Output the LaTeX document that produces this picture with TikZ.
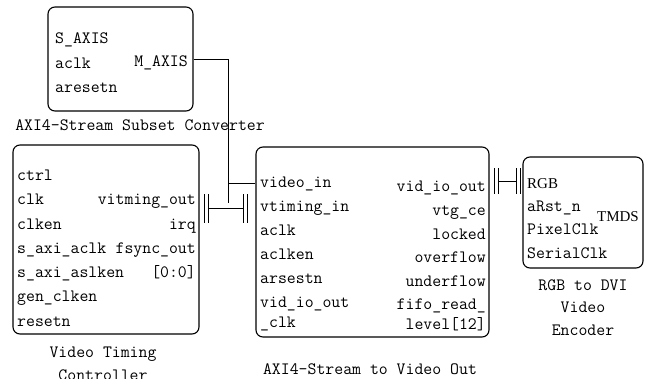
\documentclass[tikz,border=0pt]{standalone}
\usepackage{fontspec}
\newfontfamily\timesfont{Liberation Serif}
\usetikzlibrary{calc}
\tikzset{
 block/.style={draw,rounded corners=7pt,line width=1.1pt,inner sep=0},
 port/.style={font=\ttfamily\fontsize{17.3}{22}\selectfont,inner sep=0,text height=11pt,text depth=3pt},
 inport/.style={port,anchor=west},
 outport/.style={port,anchor=east},
 sigport/.style={font=\timesfont\fontsize{15}{18}\selectfont,inner sep=0,text height=10pt,text depth=0pt},
 caption/.style={font=\ttfamily\fontsize{17.3}{22.5}\selectfont,align=center,inner sep=0},
 wire/.style={line width=1pt}
}
\begin{document}
\begin{tikzpicture}[x=1pt,y=-1pt]
\path[use as bounding box] (0,0) rectangle (648,378);
% AXI4-Stream Subset Converter
\node[block,minimum width=145,minimum height=104] (conv) at (120.5,59) {};
\node[inport] (convsaxis) at (55,39) {S\_AXIS};
\node[inport] (convaclk) at (55,64) {aclk};
\node[inport] (convaresetn) at (55,88) {aresetn};
\node[outport] (convmaxis) at (188,62) {M\_AXIS};
\node[caption] (convname) at (140,125) {AXI4-Stream Subset Converter};
% Video Timing Controller
\node[block,minimum width=186,minimum height=189] (vtc) at (106,239.5) {};
\node[inport] (vtcctrl) at (17,176) {ctrl};
\node[inport] (vtcclk) at (17,200) {clk};
\node[inport] (vtcclken) at (17,225) {clken};
\node[inport] (vtcsaclk) at (17,249) {s\_axi\_aclk};
\node[inport] (vtcsaclken) at (17,273) {s\_axi\_aslken};
\node[inport] (vtcgenclken) at (17,297) {gen\_clken};
\node[inport] (vtcresetn) at (17,322) {resetn};
\node[outport] (vtcvtout) at (196,200) {vitming\_out};
\node[outport] (vtcirq) at (196,225) {irq};
\node[outport] (vtcfsync) at (196,249) {fsync\_out};
\node[outport] (vtcrange) at (196,273) {[0:0]};
\node[caption] (vtcname) at (103,364) {Video Timing\\Controller};
% AXI4-Stream to Video Out
\node[block,minimum width=233,minimum height=190] (vout) at (372.5,242) {};
\node[inport] (voutvideoin) at (260,183) {video\_in};
\node[inport] (voutvtin) at (260,207) {vtiming\_in};
\node[inport] (voutaclk) at (260,231) {aclk};
\node[inport] (voutaclken) at (260,255) {aclken};
\node[inport] (voutresetn) at (260,279) {arsestn};
\node[inport] (voutioclk) at (260,303) {vid\_io\_out};
\node[inport] (voutioclkb) at (260,323) {\_clk};
\node[outport] (voutioout) at (486,187) {vid\_io\_out};
\node[outport] (voutvtgce) at (486,211) {vtg\_ce};
\node[outport] (voutlocked) at (486,235) {locked};
\node[outport] (voutover) at (486,258) {overflow};
\node[outport] (voutunder) at (486,282) {underflow};
\node[outport] (voutfifo) at (486,305) {fifo\_read\_};
\node[outport] (voutfifob) at (486,325) {level[12]};
\node[caption] (voutname) at (370,369) {AXI4-Stream to Video Out};
% RGB to DVI Video Encoder
\node[block,minimum width=120,minimum height=111] (enc) at (583,212.5) {};
\node[sigport,anchor=west] (encrgb) at (527,183) {RGB};
\node[inport] (encrst) at (527,207) {aRst\_n};
\node[inport] (encpclk) at (527,230) {PixelClk};
\node[inport] (encsclk) at (527,254) {SerialClk};
\node[sigport,anchor=east] (enctmds) at (639,216) {TMDS};
\node[caption] (encname) at (583,307.5) {RGB to DVI\\Video\\Encoder};
% stream from the converter
\coordinate (drop) at (228,203);
\coordinate (tap) at (228,183);
\draw[wire] (conv.east) -| (drop);
\draw[wire] (tap) -- (tap -| vout.west);
% timing bus
\coordinate (vtcbus) at (208,208.5);
\coordinate (voutbus) at (243,208.5);
\draw[wire] (vtcbus) -- (voutbus);
\draw[wire] ($(vtcbus)+(0,-14.5)$) -- ($(vtcbus)+(0,14.5)$);
\draw[wire] ($(vtcbus)+(-4,-14.5)$) -- ($(vtcbus)+(-4,14.5)$);
\draw[wire] ($(voutbus)+(0,-14.5)$) -- ($(voutbus)+(0,14.5)$);
\draw[wire] ($(voutbus)+(4,-14.5)$) -- ($(voutbus)+(4,14.5)$);
% video bus
\coordinate (voutvid) at (498,181);
\coordinate (encvid) at (516,181);
\draw[wire] (voutvid) -- (encvid);
\draw[wire] ($(voutvid)+(0,-13)$) -- ($(voutvid)+(0,13)$);
\draw[wire] ($(voutvid)+(-4,-13)$) -- ($(voutvid)+(-4,13)$);
\draw[wire] ($(encvid)+(0,-13)$) -- ($(encvid)+(0,13)$);
\draw[wire] ($(encvid)+(4,-13)$) -- ($(encvid)+(4,13)$);
\end{tikzpicture}
\end{document}
